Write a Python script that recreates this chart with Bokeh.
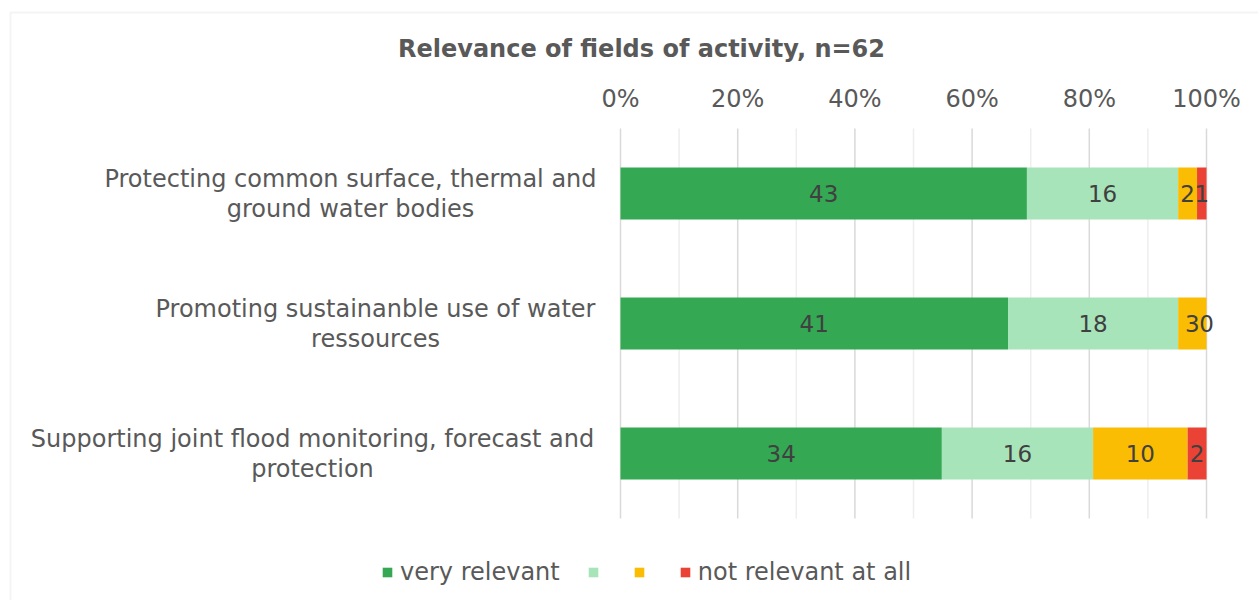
from bokeh.plotting import figure
from bokeh.models import (ColumnDataSource, Range1d, LabelSet, Label, Legend, LegendItem, BoxAnnotation)
from bokeh.core.properties import value
from bokeh.embed import file_html
from bokeh.resources import INLINE

# ---------------- data ----------------
title_text = "Relevance of fields of activity, n=62"
n_total = 62
categories = [
    "Protecting common surface, thermal and\nground water bodies",
    "Promoting sustainanble use of water\nressources",
    "Supporting joint flood monitoring, forecast and\nprotection",
]
very_relevant = [43, 41, 34]
relevant = [16, 18, 16]
less_relevant = [2, 3, 10]
not_relevant = [1, 0, 2]
series_names = ["very relevant", "", "", "not relevant at all"]
x_major_ticks = [0, 20, 40, 60, 80, 100]
x_minor_ticks = [10, 30, 50, 70, 90]
x_tick_labels = ["0%", "20%", "40%", "60%", "80%", "100%"]

# ---------------- style / layout ----------------
colors = ["#34A853", "#A8E4BA", "#FBBC04", "#EA4335"]
FONT = "DejaVu Sans"
TXT = "#595959"
W, H = 1258, 600
X0_PX, X1_PX = 620, 1206          # pixel columns of 0% and 100%
ROW_PX, ROW0_PX = 130, 193        # pixel height of a row, centre of first row
LABEL_CX = [350, 375, 312]        # horizontal centre of each category label block (px)

series = [very_relevant, relevant, less_relevant, not_relevant]
keys = ["s0", "s1", "s2", "s3"]
ypos = list(range(len(categories)))

data = dict(y=ypos)
for k, s in zip(keys, series):
    data[k] = [v / n_total * 100 for v in s]
source = ColumnDataSource(data)

pxu = (X1_PX - X0_PX) / 100.0
x_range = Range1d(-X0_PX / pxu, 100 + (W - X1_PX) / pxu)
y_range = Range1d((H - ROW0_PX) / ROW_PX, -ROW0_PX / ROW_PX)

p = figure(width=W, height=H, output_backend="svg", toolbar_location=None,
           x_range=x_range, y_range=y_range, x_axis_location=None, y_axis_location=None,
           min_border=0)
p.outline_line_color = None
p.background_fill_color = "white"
p.border_fill_color = "white"
p.xgrid.visible = False
p.ygrid.visible = False

# grid lines (plot area only)
y_lo, y_hi = ypos[0] - 0.5, ypos[-1] + 0.5
p.segment(x0=x_minor_ticks, x1=x_minor_ticks, y0=[y_lo] * len(x_minor_ticks),
          y1=[y_hi] * len(x_minor_ticks), line_color="#eeeeee", line_width=1.5)
p.segment(x0=x_major_ticks, x1=x_major_ticks, y0=[y_lo] * len(x_major_ticks),
          y1=[y_hi] * len(x_major_ticks), line_color="#d9d9d9", line_width=1.5)

renderers = p.hbar_stack(keys, y="y", height=0.4, color=colors, source=source, line_width=0)

# tick labels of the top axis
tick_src = ColumnDataSource(dict(x=x_major_ticks, t=x_tick_labels))
p.add_layout(LabelSet(x="x", y=H - 98, y_units="screen", text="t", source=tick_src,
                      text_align="center", text_baseline="middle", text_font=value(FONT),
                      text_font_size="24px", text_color=TXT))

# value labels inside bars
lab_x, lab_y, lab_t = [], [], []
for i in ypos:
    left = 0.0
    for s in series:
        w = s[i] / n_total * 100
        lab_x.append(left + w / 2)
        lab_y.append(i)
        lab_t.append(str(s[i]))
        left += w
lab_src = ColumnDataSource(dict(x=lab_x, y=lab_y, t=lab_t))
p.add_layout(LabelSet(x="x", y="y", text="t", source=lab_src, text_align="center",
                      text_baseline="middle", text_font=value(FONT), text_font_size="23px",
                      text_color="#404040"))

# category labels: each line centred on its own within the block
line1 = [c.split("\n")[0] for c in categories]
line2 = [c.split("\n")[1] if "\n" in c else "" for c in categories]
for txt, off in ((line1, 15), (line2, -15)):
    src = ColumnDataSource(dict(y=ypos, t=txt, cx=LABEL_CX))
    p.add_layout(LabelSet(x="cx", x_units="screen", y="y", y_offset=off, text="t", source=src,
                          text_align="center", text_baseline="middle", text_font=value(FONT),
                          text_font_size="24px", text_color=TXT))

# title
p.add_layout(Label(x=641, y=H - 48, x_units="screen", y_units="screen", text=title_text,
                   text_align="center", text_baseline="middle", text_font=FONT,
                   text_font_style="bold", text_font_size="24px", text_color=TXT))

# chart border
p.add_layout(BoxAnnotation(left=10, right=3000, top=H - 12, bottom=-300,
                           left_units="screen", right_units="screen",
                           top_units="screen", bottom_units="screen",
                           fill_alpha=0, line_color="#d9d9d9", line_width=2))

legend = Legend(items=[LegendItem(label=value(nm), renderers=[r]) for nm, r in zip(series_names, renderers)],
                orientation="horizontal", location=(381, 14), glyph_width=12, glyph_height=12,
                label_standoff=7, spacing=27, padding=0, margin=0, label_width=0,
                border_line_color=None, background_fill_alpha=0,
                label_text_font=FONT, label_text_font_size="24px", label_text_color=TXT)
p.add_layout(legend, "center")

open("out.html", "w").write(file_html(p, INLINE))
